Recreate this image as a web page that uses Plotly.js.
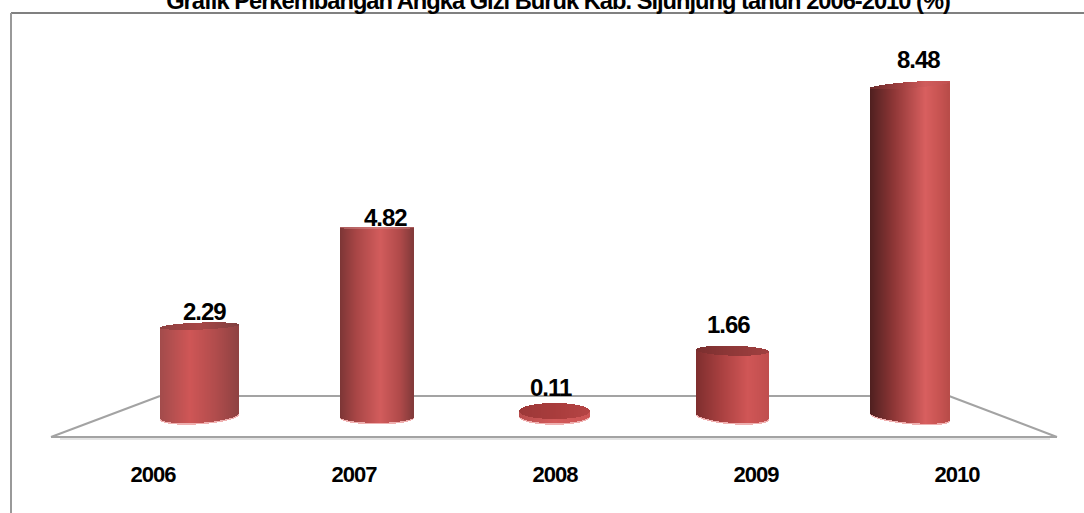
<!DOCTYPE html>
<html>
<head>
<meta charset="utf-8">
<script src="https://cdn.plot.ly/plotly-3.0.1.min.js"></script>
<style>
  html, body { margin: 0; padding: 0; background: #fff; overflow: hidden; }
  svg text { letter-spacing: -1px; }
</style>
</head>
<body>
<div id="chart" style="width:1084px;height:513px;"></div>
<script>
// Chart content
const chartTitle = "Grafik Perkembangan Angka Gizi Buruk Kab. Sijunjung tahun 2006-2010 (%)";
const years = [2006, 2007, 2008, 2009, 2010];
const values = [2.29, 4.82, 0.11, 1.66, 8.48];
const yearLabels = ["2006", "2007", "2008", "2009", "2010"];

// Page scale: how many pixels one year and one percent take up
const WIDTH = 1084, HEIGHT = 513, PLOT_BOTTOM = 459;
const PX_PER_YEAR = 177.7, YEAR0_PX = 199.5;
const PX_PER_UNIT = 38.95, ZERO_PX = 415.3;

// Cylinder look, in pixels: body width, cap and foot ellipse half-heights and tilts
const bodyWidth = [78, 73, 70, 72, 79];
const capHalf = [3.5, 1, 8, 5, 3];
const capTilt = [-1.5, 0, 0, 1, -3];
const footHalf = [7, 6, 8, 7, 6.5];
const footTilt = [-2.5, 0, 0, 2.5, 3.5];
const footDrop = [0.5, 1.5, 0, 0.5, 1];

// Left-to-right shading of each body and cap
const bodyShade = [
  [[0, "#a24b4b"], [0.38, "#cf5656"], [0.72, "#b04c4c"], [1, "#8f4242"]],
  [[0, "#7c3636"], [0.22, "#a84646"], [0.55, "#d25c5c"], [0.82, "#b04a4a"], [1, "#823a3a"]],
  [[0, "#b84c4c"], [0.5, "#d25a5a"], [1, "#cc5454"]],
  [[0, "#7e2e2e"], [0.35, "#a94040"], [0.72, "#d05656"], [1, "#c04e4e"]],
  [[0, "#4f2020"], [0.3, "#8e3636"], [0.7, "#d85f5f"], [0.9, "#c55250"], [1, "#b84c48"]]
];
const capShade = [
  [[0, "#8e4040"], [0.5, "#a84646"], [1, "#804040"]],
  [[0, "#a85a5a"], [0.5, "#d47878"], [1, "#a85a5a"]],
  [[0, "#9c3838"], [0.5, "#a83c3c"], [1, "#b54444"]],
  [[0, "#7a2e2e"], [0.5, "#8f3838"], [1, "#a04040"]],
  [[0, "#6a2a2a"], [0.4, "#a24040"], [0.7, "#d05c5c"], [1, "#c05050"]]
];
const RIM = "#efb0b0";

// Offsets of the value labels from the top of their cylinder
const labelLift = [15, 10, 24, 26, 26];
const labelSlide = [5, 8, -4, -4, 8];
// Year labels sit loosely under the floor rather than under each bar
const yearLabelPx = [153, 354, 555, 756, 957];

const pxToValue = p => (ZERO_PX - p) / PX_PER_UNIT;
const pxToYear = p => (p - YEAR0_PX) / PX_PER_YEAR + 2006;
const paperX = p => p / WIDTH;
const paperY = p => (PLOT_BOTTOM - p) / PLOT_BOTTOM;

function hex(c) { return [1, 3, 5].map(i => parseInt(c.substr(i, 2), 16)); }
function shadeAt(stops, f) {
  let k = 0;
  while (k < stops.length - 2 && f > stops[k + 1][0]) k++;
  const a = stops[k], b = stops[k + 1];
  const u = Math.min(1, Math.max(0, (f - a[0]) / (b[0] - a[0])));
  const ca = hex(a[1]), cb = hex(b[1]);
  return "rgb(" + ca.map((v, i) => Math.round(v + (cb[i] - v) * u)).join(",") + ")";
}

// Each cylinder is a run of one-pixel bars whose base and top follow its ellipses
function cylinderTraces(i) {
  const w = bodyWidth[i], n = Math.round(w);
  const topPx = ZERO_PX - values[i] * PX_PER_UNIT;
  const xs = [], barW = 1.25 / PX_PER_YEAR;
  const rim = { base: [], y: [] }, body = { base: [], y: [], c: [] }, cap = { base: [], y: [], c: [] };
  for (let k = 0; k < n; k++) {
    const f = (k + 0.5) / n, t = 2 * f - 1, arc = Math.sqrt(1 - t * t);
    xs.push(years[i] + (t * w / 2) / PX_PER_YEAR);
    const foot = ZERO_PX + footDrop[i] + footTilt[i] * t + footHalf[i] * arc;
    const capFront = topPx + capTilt[i] * t + capHalf[i] * arc;
    const capBack = topPx + capTilt[i] * t - capHalf[i] * arc;
    rim.base.push(pxToValue(foot + 1));
    rim.y.push(pxToValue(foot) - pxToValue(foot + 1));
    body.base.push(pxToValue(foot));
    body.y.push(pxToValue(capFront) - pxToValue(foot));
    body.c.push(shadeAt(bodyShade[i], f));
    cap.base.push(pxToValue(capFront));
    cap.y.push(pxToValue(capBack) - pxToValue(capFront));
    cap.c.push(shadeAt(capShade[i], f));
  }
  const bar = (part, color) => ({
    type: "bar", x: xs, y: part.y, base: part.base, width: barW,
    marker: { color: color, line: { width: 0 } },
    hoverinfo: "skip", showlegend: false
  });
  return [bar(rim, RIM), bar(body, body.c), bar(cap, cap.c)];
}

const traces = years.flatMap((_, i) => cylinderTraces(i));

const GREY = "#a3a3a3";
const line = (x0, y0, x1, y1, color, width) => ({
  type: "line", xref: "paper", yref: "paper", layer: "below",
  x0: paperX(x0), y0: paperY(y0), x1: paperX(x1), y1: paperY(y1),
  line: { color: color, width: width }
});

const layout = {
  width: WIDTH, height: HEIGHT,
  margin: { l: 0, r: 0, t: 0, b: HEIGHT - PLOT_BOTTOM, pad: 0 },
  paper_bgcolor: "#ffffff", plot_bgcolor: "rgba(0,0,0,0)",
  barmode: "overlay", bargap: 0, showlegend: false,
  title: {
    text: "<b>" + chartTitle + "</b>",
    x: 558 / WIDTH, xanchor: "center", xref: "paper",
    y: (HEIGHT - 9) / HEIGHT, yanchor: "bottom", yref: "container",
    font: { family: "Liberation Sans, Arial, sans-serif", size: 23.7, color: "#000" }
  },
  xaxis: {
    range: [pxToYear(0), pxToYear(WIDTH)], showgrid: false, zeroline: false, showline: false,
    ticks: "", tickmode: "array", tickvals: yearLabelPx.map(pxToYear), ticktext: yearLabels.map(s => "<b>" + s + "</b>"),
    tickfont: { family: "Liberation Sans, Arial, sans-serif", size: 22, color: "#000" },
    fixedrange: true
  },
  yaxis: {
    range: [pxToValue(PLOT_BOTTOM), pxToValue(0)], visible: false, fixedrange: true
  },
  shapes: [
    // Chart frame, open on the right and at the bottom
    line(11, 13, WIDTH, 13, "#808080", 2),
    line(11, 13, 11, HEIGHT, "#999999", 2),
    // Floor the cylinders stand on
    line(60, 439, 1050, 439, "#e4e4e4", 2),
    line(160, 396, 949, 396, GREY, 2),
    line(51, 437, 1057, 437, GREY, 2),
    line(51, 437, 160, 396, GREY, 2),
    line(949, 396, 1057, 437, GREY, 2)
  ],
  annotations: years.map((yr, i) => ({
    x: yr, y: values[i], xref: "x", yref: "y",
    text: "<b>" + values[i].toFixed(2) + "</b>",
    showarrow: false, xanchor: "center", yanchor: "middle",
    xshift: labelSlide[i], yshift: labelLift[i],
    font: { family: "Liberation Sans, Arial, sans-serif", size: 24, color: "#000" }
  }))
};

Plotly.newPlot("chart", traces, layout, { displayModeBar: false, responsive: false });
</script>
</body>
</html>
